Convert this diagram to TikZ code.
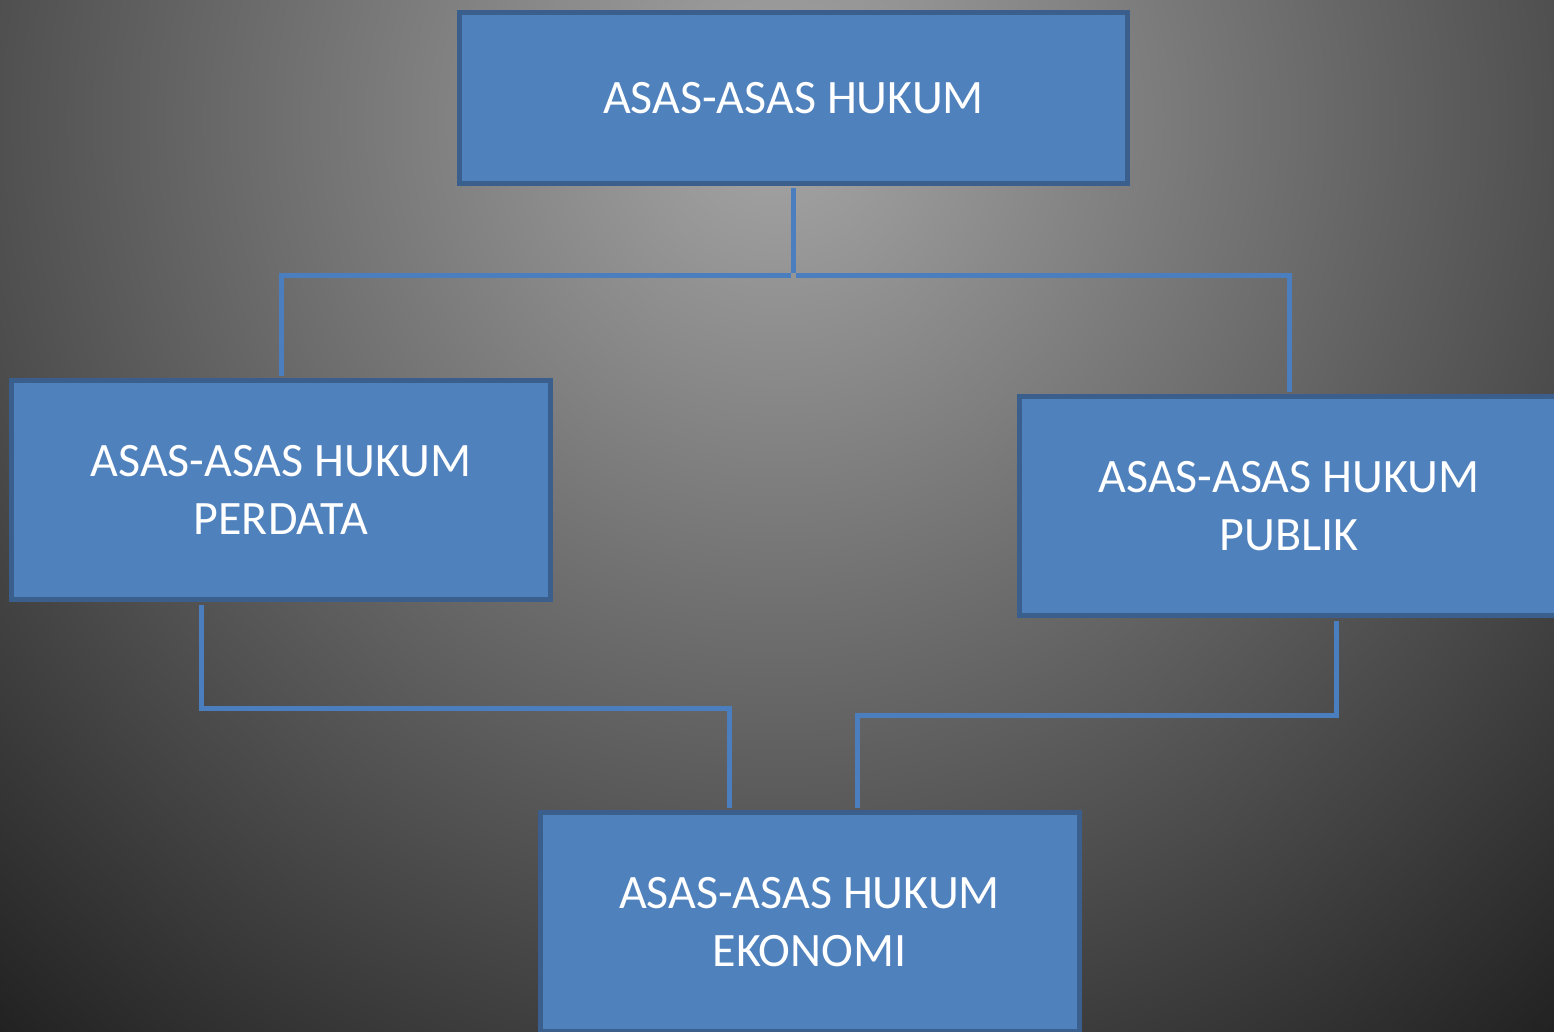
\documentclass[tikz,border=0pt]{standalone}
\usepackage{fontspec}
\setmainfont{Carlito}
\definecolor{boxfill}{HTML}{4F81BD}
\definecolor{boxline}{HTML}{3B5F8D}
\definecolor{linkblue}{HTML}{4A7EBF}
\definecolor{bginner}{HTML}{A6A6A6}
\definecolor{bgouter}{HTML}{1C1C1C}
\begin{document}
\begin{tikzpicture}
[x=1pt,y=-1pt,
  boxdecorate/.style={shape=rectangle,draw=boxline,fill=boxfill,line width=5pt,
    text=white,align=center,inner sep=0pt,minimum width=539pt,minimum height=219pt,
    font=\fontsize{48}{58}\selectfont},%
  linkdecorate/.style={draw=linkblue,line width=5pt,shorten <=2.5pt,shorten >=2.5pt}]
\useasboundingbox (0,0) rectangle (1554,1032);
\clip (0,0) rectangle (1554,1032);
% background
\shade[inner color=bginner,outer color=bgouter] (-473,-1130) rectangle (2027,1370);
% nodes or boxes
\node (top) at (793.5,98) [boxdecorate,minimum width=668pt,minimum height=171pt] {ASAS-ASAS HUKUM};
\node (perdata) at (281,490) [boxdecorate] {ASAS-ASAS HUKUM\\PERDATA};
\node (publik) at (1289,506) [boxdecorate] {ASAS-ASAS HUKUM\\PUBLIK};
\node (ekonomi) at (809.5,922) [boxdecorate] {ASAS-ASAS HUKUM\\EKONOMI};
\coordinate (fork) at (793.5,275);
% edges or lines
\draw[linkdecorate] (top.south) -- (fork);
\draw[linkdecorate] (fork) -| (perdata.north);
\draw[linkdecorate] (fork) -| (publik.north);
\draw[linkdecorate] ([xshift=-80pt]perdata.south) -- ++(0,106.5) -| ([xshift=-80.5pt]ekonomi.north);
\draw[linkdecorate] ([xshift=47pt]publik.south) -- ++(0,97.5) -| ([xshift=47.5pt]ekonomi.north);
\end{tikzpicture}
\end{document}
